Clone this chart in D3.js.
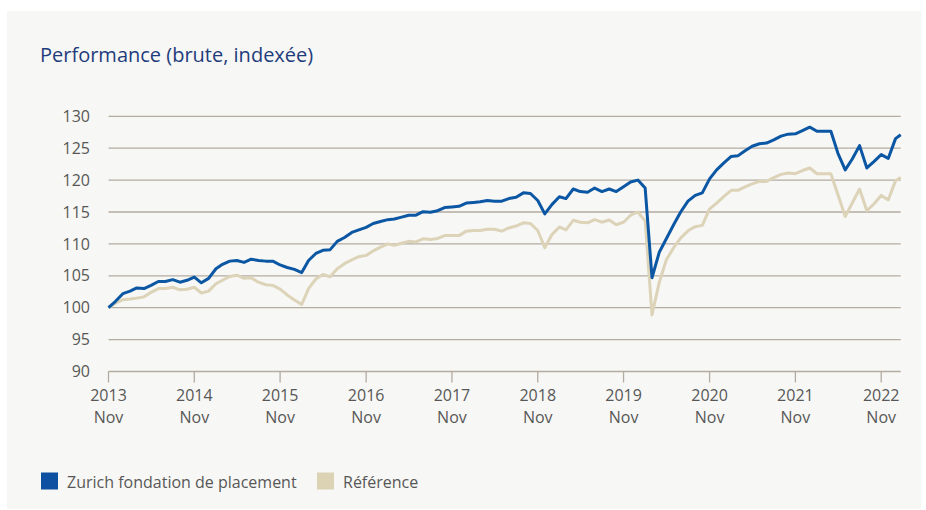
<!DOCTYPE html>
<html>
<head>
<meta charset="utf-8">
<script src="https://cdn.jsdelivr.net/npm/d3@7"></script>
<style>
  body { margin: 0; background: #fff; font-family: "Open Sans", sans-serif; }
</style>
</head>
<body>
<div id="container"></div>
<script>
/* DATA */
const seriesNames = ["Zurich fondation de placement", "Référence"]
const startMonth = "2013-11-01"
const lastDate = "2023-01-23"
const yTicks = [90, 95, 100, 105, 110, 115, 120, 125, 130]
const xTickYears = [2013, 2014, 2015, 2016, 2017, 2018, 2019, 2020, 2021, 2022]
const xTickMonth = "Nov"

const zurich = [
  100.0, 101.0, 102.2, 102.6, 103.1, 103.0, 103.5, 104.1, 104.1, 104.4, 104.0, 104.3,
  104.8, 103.9, 104.6, 106.1, 106.8, 107.3, 107.4, 107.1, 107.6, 107.4, 107.3, 107.3,
  106.7, 106.3, 106.0, 105.5, 107.4, 108.5, 109.0, 109.1, 110.4, 111.0, 111.8, 112.2,
  112.6, 113.2, 113.5, 113.8, 113.9, 114.2, 114.5, 114.5, 115.05, 114.95, 115.2, 115.7,
  115.8, 115.9, 116.4, 116.5, 116.6, 116.8, 116.7, 116.7, 117.1, 117.3, 118.0, 117.9,
  116.8, 114.7, 116.2, 117.4, 117.1, 118.6, 118.2, 118.1, 118.75, 118.2, 118.6, 118.2,
  118.95, 119.7, 120.0, 118.75, 104.7, 108.7, 110.8, 113.0, 115.0, 116.7, 117.6, 118.0,
  120.2, 121.6, 122.7, 123.7, 123.8, 124.6, 125.3, 125.7, 125.8, 126.3, 126.9, 127.2,
  127.25, 127.75, 128.3, 127.65, 127.65, 127.65, 124.2, 121.6, 123.3, 125.4, 121.9, 122.9,
  124.0, 123.4, 126.5, 127.1
]

const reference = [
  100.0, 100.7, 101.25, 101.35, 101.5, 101.7, 102.4, 103.0, 103.0, 103.2, 102.8, 102.9,
  103.2, 102.3, 102.6, 103.75, 104.3, 104.9, 105.1, 104.6, 104.7, 104.0, 103.6, 103.5,
  102.9, 102.0, 101.2, 100.5, 103.0, 104.5, 105.2, 104.85, 106.1, 106.9, 107.5, 108.0,
  108.2, 108.9, 109.5, 110.0, 109.8, 110.1, 110.4, 110.3, 110.8, 110.7, 110.85, 111.3,
  111.3, 111.3, 112.0, 112.1, 112.1, 112.3, 112.3, 112.0, 112.5, 112.8, 113.3, 113.2,
  112.1, 109.4, 111.5, 112.65, 112.2, 113.7, 113.4, 113.3, 113.8, 113.4, 113.75, 113.0,
  113.4, 114.5, 115.0, 113.6, 98.85, 104.0, 107.5, 109.4, 110.9, 112.05, 112.7, 112.9,
  115.5, 116.4, 117.45, 118.4, 118.4, 118.95, 119.4, 119.8, 119.8, 120.4, 120.9, 121.1,
  121.0, 121.5, 121.9, 121.0, 121.0, 121.0, 117.7, 114.3, 116.4, 118.6, 115.2, 116.25,
  117.6, 116.9, 119.9, 120.4
]

/* CONSTANTS AND GLOBALS */
const width = 926
const height = 510
const colors = ["#0b57a4", "#dcd3b8"]
const gridColor = "#b4aba1"
const textColor = "#575757"

// monthly dates, last point is a partial month
const dates = zurich.map((d, i) =>
  i === zurich.length - 1 ? new Date(lastDate) : d3.timeMonth.offset(new Date(startMonth), i))

const svg = d3.select("#container")
  .append("svg")
    .attr("width", width)
    .attr("height", height)

// panel
svg.append("rect")
  .attr("x", 7)
  .attr("y", 11)
  .attr("width", 914)
  .attr("height", 498)
  .attr("fill", "#f7f7f5")

svg.append("text")
  .attr("x", 40)
  .attr("y", 62)
  .attr("fill", "#1f3d7c")
  .attr("font-size", 20)
  .text("Performance (brute, indexée)")

// SCALES
const xScale = d3.scaleTime()
  .domain([new Date(startMonth), new Date(lastDate)])
  .range([108.5, 900.7])

const yScale = d3.scaleLinear()
  .domain([90, 130])
  .range([371.5, 116.3])

// gridlines
svg.append("g")
  .selectAll("line")
  .data(yTicks)
  .join("line")
    .attr("x1", xScale.range()[0])
    .attr("x2", xScale.range()[1])
    .attr("y1", d => yScale(d))
    .attr("y2", d => yScale(d))
    .attr("stroke", gridColor)
    .attr("stroke-width", 1.3)

svg.append("g")
  .selectAll("text")
  .data(yTicks)
  .join("text")
    .attr("x", 90)
    .attr("y", d => yScale(d))
    .attr("dy", "0.35em")
    .attr("text-anchor", "end")
    .attr("fill", textColor)
    .attr("font-size", 16)
    .text(d => d)

// x axis ticks
const xTicks = xTickYears.map(y => new Date(y + "-11-01"))
const xg = svg.append("g")
xg.selectAll("line")
  .data(xTicks)
  .join("line")
    .attr("x1", d => xScale(d))
    .attr("x2", d => xScale(d))
    .attr("y1", yScale(90))
    .attr("y2", yScale(90) + 11)
    .attr("stroke", gridColor)
    .attr("stroke-width", 1.3)

const lbl = xg.selectAll("text")
  .data(xTicks)
  .join("text")
    .attr("text-anchor", "middle")
    .attr("fill", textColor)
    .attr("font-size", 16)
lbl.append("tspan")
  .attr("x", d => xScale(d))
  .attr("y", 401)
  .text(d => d.getFullYear())
lbl.append("tspan")
  .attr("x", d => xScale(d))
  .attr("y", 423)
  .text(xTickMonth)

// LINES
const line = d3.line()
  .x((d, i) => xScale(dates[i]))
  .y(d => yScale(d))

svg.selectAll(".series")
  .data([reference, zurich])
  .join("path")
    .attr("class", "series")
    .attr("fill", "none")
    .attr("stroke", (d, i) => i === 0 ? colors[1] : colors[0])
    .attr("stroke-width", 3)
    .attr("stroke-linejoin", "round")
    .attr("d", d => line(d))

// LEGEND
const legendX = [41, 317]
const leg = svg.append("g")
  .selectAll("g")
  .data(seriesNames)
  .join("g")
    .attr("transform", (d, i) => "translate(" + legendX[i] + ",472.5)")
leg.append("rect")
  .attr("width", 17)
  .attr("height", 17)
  .attr("fill", (d, i) => i === 0 ? "#0d4fa0" : "#dcd3b5")
leg.append("text")
  .attr("x", 26)
  .attr("y", 15)
  .attr("fill", textColor)
  .attr("font-size", 16)
  .text(d => d)
</script>
</body>
</html>
